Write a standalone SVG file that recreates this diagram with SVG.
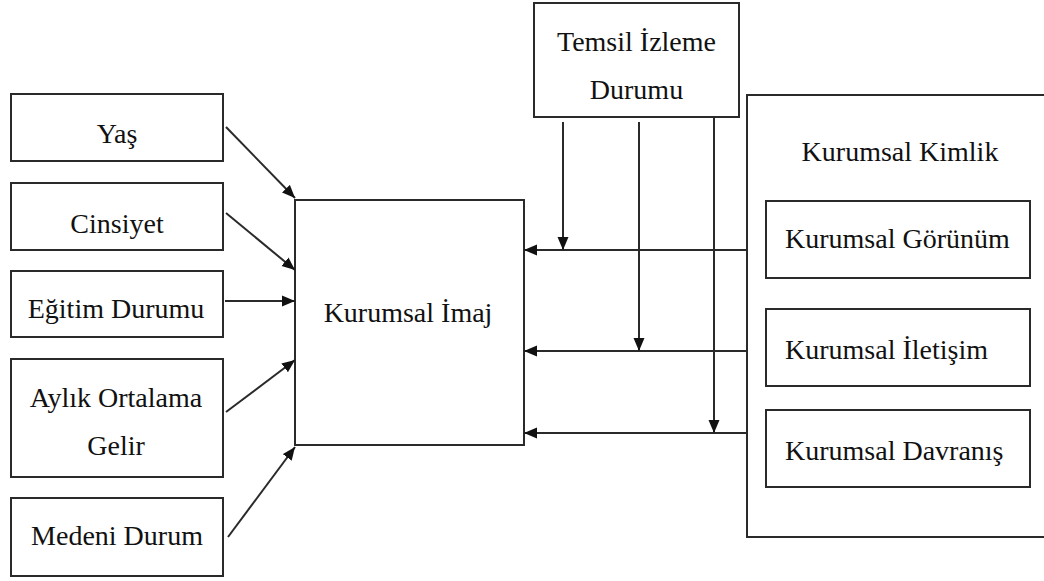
<svg xmlns="http://www.w3.org/2000/svg" width="1044" height="581" viewBox="0 0 1044 581">
  <style>
    .box { fill: #ffffff; stroke: #2a2a2a; stroke-width: 2; }
    .lbl { font-family: "Liberation Serif", "Times New Roman", serif; font-size: 28px; fill: #111111; }
    .mid { text-anchor: middle; }
    .edge { fill: none; stroke: #2a2a2a; stroke-width: 2; marker-end: url(#arrow); }
  </style>
  <defs>
    <marker id="arrow" markerUnits="userSpaceOnUse" markerWidth="14" markerHeight="12" refX="13" refY="6" orient="auto">
      <path d="M0,0.5 L13,6 L0,11.5 z" fill="#111111"/>
    </marker>
  </defs>
  <rect width="1044" height="581" fill="#ffffff"/>

  <!-- corporate identity container (runs off the right edge) -->
  <g id="kurumsal-kimlik">
    <rect class="box" x="747" y="95" width="310" height="442"/>
    <text class="lbl mid" x="900" y="161">Kurumsal Kimlik</text>
  </g>

  <g id="kurumsal-gorunum">
    <rect class="box" x="766" y="201" width="264" height="77"/>
    <text class="lbl" x="785" y="248">Kurumsal Görünüm</text>
  </g>
  <g id="kurumsal-iletisim">
    <rect class="box" x="766" y="309" width="264" height="77"/>
    <text class="lbl" x="785" y="359">Kurumsal İletişim</text>
  </g>
  <g id="kurumsal-davranis">
    <rect class="box" x="766" y="410" width="264" height="77"/>
    <text class="lbl" x="785" y="460">Kurumsal Davranış</text>
  </g>

  <g id="temsil-izleme">
    <rect class="box" x="534" y="3" width="205" height="114"/>
    <text class="lbl mid" x="636.5" y="51">Temsil İzleme</text>
    <text class="lbl mid" x="636.5" y="99">Durumu</text>
  </g>

  <g id="kurumsal-imaj">
    <rect class="box" x="295" y="200" width="229" height="245"/>
    <text class="lbl mid" x="408" y="322">Kurumsal İmaj</text>
  </g>

  <g id="yas">
    <rect class="box" x="11" y="94" width="212" height="67"/>
    <text class="lbl mid" x="117" y="143">Yaş</text>
  </g>
  <g id="cinsiyet">
    <rect class="box" x="11" y="183" width="212" height="67"/>
    <text class="lbl mid" x="117" y="233">Cinsiyet</text>
  </g>
  <g id="egitim">
    <rect class="box" x="11" y="271" width="212" height="66"/>
    <text class="lbl mid" x="116" y="318">Eğitim Durumu</text>
  </g>
  <g id="gelir">
    <rect class="box" x="11" y="359" width="212" height="118"/>
    <text class="lbl mid" x="116" y="407">Aylık Ortalama</text>
    <text class="lbl mid" x="116" y="455">Gelir</text>
  </g>
  <g id="medeni">
    <rect class="box" x="11" y="498" width="212" height="78"/>
    <text class="lbl mid" x="117" y="545">Medeni Durum</text>
  </g>

  <g id="connectors">
    <!-- demographic factors into corporate image -->
    <line class="edge" x1="226" y1="127" x2="295" y2="198"/>
    <line class="edge" x1="226" y1="213" x2="295" y2="270"/>
    <line class="edge" x1="225" y1="301" x2="295" y2="301"/>
    <line class="edge" x1="226" y1="412" x2="295" y2="360"/>
    <line class="edge" x1="228" y1="537" x2="295" y2="447"/>
    <!-- identity components into corporate image -->
    <line class="edge" x1="747" y1="250" x2="524" y2="250"/>
    <line class="edge" x1="747" y1="351" x2="524" y2="351"/>
    <line class="edge" x1="747" y1="433" x2="524" y2="433"/>
    <!-- monitoring status moderating each path -->
    <line class="edge" x1="563" y1="122" x2="563" y2="250"/>
    <line class="edge" x1="639" y1="122" x2="639" y2="351"/>
    <line class="edge" x1="714" y1="117" x2="714" y2="433"/>
  </g>
</svg>
